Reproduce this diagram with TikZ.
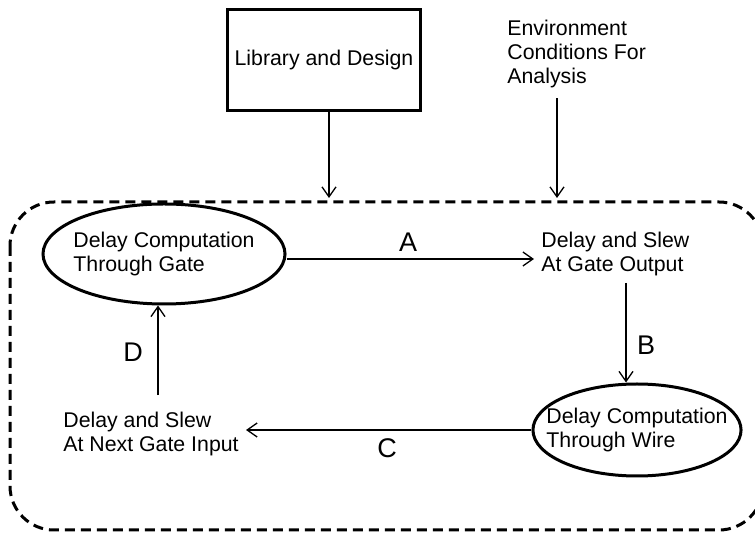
\documentclass[tikz,border=0pt]{standalone}
\usepackage{fontspec}
\setmainfont{Liberation Sans}
\usetikzlibrary{arrows.meta,shapes.geometric}
\begin{document}
\begin{tikzpicture}[x=0.5pt, y=-0.5pt,
  every node/.style={font=\fontsize{10.65}{12}\selectfont},
  txt/.style={align=left, inner xsep=3.5pt, inner ysep=0pt},
  proc/.style={ellipse, draw, line width=1.5pt, align=left, inner ysep=0pt},
  lbl/.style={font=\fontsize{13.5}{15}\selectfont, inner sep=0pt},
  flow/.style={-{Straight Barb[length=5pt,width=7pt]}, line width=0.65pt}]
\useasboundingbox (0,0) rectangle (755,533);
% analysis loop frame
\draw[line width=1.5pt, dash pattern=on 5pt off 3pt, rounded corners=22pt] (10,202) rectangle (763,530);
% inputs
\node[draw, line width=1.5pt, minimum width=96.5pt, minimum height=50.5pt] (lib) at (324,60) {Library and Design};
\node[txt, anchor=west] (env) at (500,54) {Environment\\Conditions For\\Analysis};
\coordinate (libin) at (329,198);
\coordinate (envin) at (557,198);
\draw[flow](lib.south -| libin) -- (libin);
\draw[flow, shorten <=5pt](env.south -| envin) -- (envin);
% loop
\node[proc, minimum width=120pt, minimum height=50pt, inner xsep=-2.5pt] (gate) at (164,254) {Delay Computation\\Through Gate};
\node[txt, anchor=west] (gateout) at (534,254) {Delay and Slew\\At Gate Output};
\node[proc, minimum width=103pt, minimum height=46pt, inner xsep=-8.5pt] (wire) at (637,430) {Delay Computation\\Through Wire};
\node[txt, anchor=west] (nextin) at (56,433.5) {Delay and Slew\\At Next Gate Input};
\coordinate (bx) at (626,0);
\coordinate (dx) at (158,0);
\draw[flow]([yshift=-2.5pt]gate.east) -- ([yshift=-2.5pt]gateout.west);
\draw[flow, shorten <=3.25pt](gateout.south -| bx) -- (wire.north -| bx);
\draw[flow](wire.west) -- (wire.west -| nextin.east);
\draw[flow, shorten <=8pt](nextin.north -| dx) -- (gate.south -| dx);
\node[lbl] (la) at (408,242.5) {A};
\node[lbl] (lb) at (646,345) {B};
\node[lbl] (lc) at (387,448) {C};
\node[lbl] (ld) at (133,352) {D};
\end{tikzpicture}
\end{document}
